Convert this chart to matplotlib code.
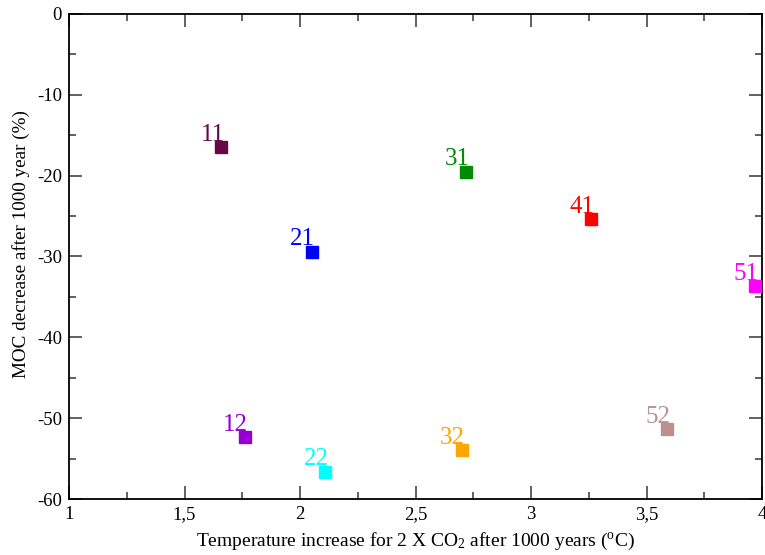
import matplotlib
matplotlib.use("Agg")
import matplotlib.pyplot as plt
from matplotlib.ticker import MultipleLocator, FuncFormatter

plt.rcParams["font.family"] = ["Liberation Serif", "DejaVu Serif"]
plt.rcParams["mathtext.fontset"] = "custom"
plt.rcParams["mathtext.rm"] = "Liberation Serif"
plt.rcParams["mathtext.it"] = "Liberation Serif:italic"

# Model runs: label, warming (°C), MOC change (%), colour
run_labels = ["11", "21", "31", "41", "51", "12", "22", "32", "52"]
temp_increase = [1.66, 2.05, 2.72, 3.26, 3.97, 1.76, 2.11, 2.70, 3.59]
moc_decrease = [-16.5, -29.4, -19.5, -25.4, -33.7, -52.3, -56.6, -54.0, -51.4]
run_colors = ["#670748", "#0000ff", "#008b00", "#ff0000", "#ff00ff",
              "#9400d3", "#00ffff", "#ffa500", "#bc8f8f"]

fig = plt.figure(figsize=(7.65, 5.55), dpi=100)
ax = fig.add_axes([0.0902, 0.1009, 0.9059, 0.8739])

for lab, x, y, c in zip(run_labels, temp_increase, moc_decrease, run_colors):
    ax.plot([x], [y], marker="s", markersize=9.3, color=c, linestyle="none",
            clip_on=False, zorder=3)
    ax.annotate(lab, (x, y), xytext=(2.5, 4.5), textcoords="offset points",
                ha="right", va="baseline", color=c, fontsize=18, zorder=4)

ax.set_xlim(1, 4)
ax.set_ylim(-60, 0)
ax.xaxis.set_major_locator(MultipleLocator(0.5))
ax.xaxis.set_minor_locator(MultipleLocator(0.25))
ax.yaxis.set_major_locator(MultipleLocator(10))
ax.yaxis.set_minor_locator(MultipleLocator(5))
ax.xaxis.set_major_formatter(FuncFormatter(lambda v, p: f"{v:g}".replace(".", ",")))
ax.yaxis.set_major_formatter(FuncFormatter(lambda v, p: f"{v:g}"))

ax.tick_params(which="both", direction="in", top=True, right=True,
               color="#555555", labelsize=13.5)
ax.tick_params(which="major", length=9.5, width=1.3, pad=5)
ax.tick_params(which="minor", length=5, width=1.3)
for s in ax.spines.values():
    s.set_linewidth(1.3)

ax.set_xlabel(r"Temperature increase for 2 X CO$_2$ after 1000 years ($^{\mathrm{o}}$C)",
              fontsize=14, labelpad=6)
ax.set_ylabel("MOC decrease after 1000 year (%)", fontsize=13.8, labelpad=6)
ax.yaxis.set_label_coords(-0.056, 0.525)

fig.savefig("out.png", dpi=100)
